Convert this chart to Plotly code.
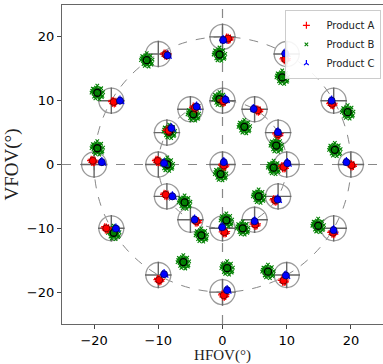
import plotly.graph_objects as go

# Target grid points (deg)
TARGET_X = [0, 10, 17.32, 20, 17.32, 10, 0, -10, -17.32, -20, -17.32, -10,
            0, 5, 8.66, 10, 8.66, 5, 0, -5, -8.66, -10, -8.66, -5, 0]
TARGET_Y = [20, 17.32, 10, 0, -10, -17.32, -20, -17.32, -10, 0, 10, 17.32,
            10, 8.66, 5, 0, -5, -8.66, -10, -8.66, -5, 0, 5, 8.66, 0]

# Cluster means
A_X = [0.88, 9.77, 17.05, 20.1, 17.2, 9.5, 0.2, -9.87, -18.1, -20.2, -16.95, -8.84,
       0.1, 5.5, 8.63, 9.5, 8.2, 5.1, 0.3, -4.08, -8.84, -10.1, -8.4, -4.3, 0.2]
A_Y = [19.74, 16.5, 9.5, -0.1, -10.7, -18.2, -20.5, -18.1, -10.0, 0.57, 9.8, 17.24,
       9.9, 8.5, 4.74, -0.4, -5.6, -9.4, -10.6, -8.9, -4.74, 0.57, 5.3, 8.9, -0.15]
B_X = [-0.47, 9.3, 19.5, 17.5, 14.9, 7.08, 0.72, -6.1, -16.95, -19.5, -19.5, -11.8,
       -0.47, 3.4, 8.37, 7.96, 5.63, 3.15, 0.6, -3.3, -5.9, -8.6, -8.3, -4.55, -0.3]
B_Y = [17.24, 13.65, 8.2, 2.3, -9.6, -16.8, -16.25, -15.3, -10.7, 2.55, 11.25, 16.35,
       10.26, 5.9, 2.97, -0.5, -5.0, -10.0, -8.75, -11.1, -5.94, 0.0, 5.15, 7.86, -1.5]
C_X = [0.1, 9.77, 17.0, 19.3, 17.3, 9.87, 0.72, -9.1, -16.6, -18.8, -15.97, -8.58,
       0.47, 4.86, 8.63, 10.1, 8.58, 5.0, -0.05, -4.34, -7.8, -9.1, -7.96, -4.03, 0.2]
C_Y = [19.5, 17.4, 10.0, 0.36, -10.3, -17.4, -19.7, -17.2, -10.05, 0.36, 10.0, 17.1,
       10.16, 8.7, 5.05, 0.2, -5.5, -8.9, -9.84, -8.65, -5.0, 0.2, 5.68, 9.06, 0.36]

# Sample scatter offsets around each mean (approximate cluster shapes)
A_DX = [-0.35, -0.15, 0.0, 0.2, 0.35, -0.25, 0.1, 0.3]
A_DY = [0.05, -0.25, 0.2, -0.1, 0.1, 0.25, -0.3, -0.2]
B_DX = [-0.8, -0.5, -0.2, 0.1, 0.4, 0.7, 0.9, -0.6, -0.3, 0.2, 0.5, -0.9, 0.0, 0.6,
        -0.4, 0.3, -0.1, 0.25, -0.55, 0.55, 0.05, -0.35, 0.8, -0.7,
        -0.25, 0.2, 0.0, -0.15, 0.35, -0.45, 0.15, 0.45]
B_DY = [0.3, -0.6, 0.8, -0.2, 0.5, -0.7, 0.1, -0.1, -0.9, 0.6, -0.4, 0.0, 1.1, 0.7,
        0.4, -1.0, 0.0, 0.2, 0.55, -0.3, -0.45, -0.25, -0.5, 0.65,
        0.15, -0.15, 0.4, -0.4, 0.05, 0.2, -0.65, -0.1]
C_DX = [-0.2, 0.0, 0.25, -0.1, 0.15, 0.3]
C_DY = [0.15, 0.3, -0.05, -0.2, 0.1, -0.25]

RINGS = [10, 20]
TICKS = [-20, -10, 0, 10, 20]


def cloud(mx, my, dx, dy):
    xs, ys = [], []
    for x, y in zip(mx, my):
        for a, b in zip(dx, dy):
            xs.append(x + a)
            ys.append(y + b)
    return xs, ys


fig = go.Figure()

# target circles and crosses
fig.add_trace(go.Scatter(x=TARGET_X, y=TARGET_Y, mode="markers", showlegend=False,
                         hoverinfo="skip",
                         marker=dict(symbol="circle-open", size=25,
                                     line=dict(color="#9a9a9a", width=1.3), color="#9a9a9a")))
fig.add_trace(go.Scatter(x=TARGET_X, y=TARGET_Y, mode="markers", showlegend=False,
                         hoverinfo="skip",
                         marker=dict(symbol="cross-thin", size=19,
                                     line=dict(color="#666666", width=1.4), color="#666666")))

bx, by = cloud(B_X, B_Y, B_DX, B_DY)
fig.add_trace(go.Scatter(x=bx, y=by, mode="markers", name="Product B", legendrank=2,
                         marker=dict(symbol="x-thin", size=3.5, color="green",
                                     line=dict(color="green", width=1.1))))
ax, ay = cloud(A_X, A_Y, A_DX, A_DY)
fig.add_trace(go.Scatter(x=ax, y=ay, mode="markers", name="Product A", legendrank=1,
                         marker=dict(symbol="cross-thin", size=5, color="red",
                                     line=dict(color="red", width=1.2))))
cx, cy = cloud(C_X, C_Y, C_DX, C_DY)
fig.add_trace(go.Scatter(x=cx, y=cy, mode="markers", name="Product C", legendrank=3,
                         marker=dict(symbol="y-up", size=4, color="blue",
                                     line=dict(color="blue", width=1.2))))

# means
fig.add_trace(go.Scatter(x=B_X, y=B_Y, mode="markers", showlegend=False,
                         marker=dict(symbol="circle-open", size=7, color="#000000",
                                     line=dict(color="#102010", width=1.3))))
fig.add_trace(go.Scatter(x=A_X, y=A_Y, mode="markers", showlegend=False,
                         marker=dict(symbol="circle", size=7, color="red",
                                     line=dict(color="#600000", width=0.8))))
fig.add_trace(go.Scatter(x=C_X, y=C_Y, mode="markers", showlegend=False,
                         marker=dict(symbol="circle", size=7, color="blue",
                                     line=dict(color="#000060", width=0.8))))

shapes = []
for r in RINGS:
    shapes.append(dict(type="circle", xref="x", yref="y", x0=-r, y0=-r, x1=r, y1=r,
                       line=dict(color="#888888", width=1, dash="dash"), layer="below"))
shapes.append(dict(type="line", xref="x", yref="y", x0=-25, x1=25, y0=0, y1=0,
                   line=dict(color="#888888", width=1.2, dash="dash"), layer="below"))
shapes.append(dict(type="line", xref="x", yref="y", x0=0, x1=0, y0=-25, y1=25,
                   line=dict(color="#888888", width=1.2, dash="dash"), layer="below"))

axis_common = dict(range=[-25, 25], tickvals=TICKS, ticks="outside", ticklen=4,
                   tickcolor="#444444", showline=True, linecolor="#666666", linewidth=1.2,
                   mirror=True, showgrid=False, zeroline=False,
                   tickfont=dict(family="DejaVu Sans", size=13, color="black"))

fig.update_layout(
    width=383, height=364,
    margin=dict(l=62, r=0, t=5, b=40),
    plot_bgcolor="white", paper_bgcolor="white",
    shapes=shapes,
    xaxis=dict(**axis_common, title=dict(text="HFOV(°)", standoff=2,
               font=dict(family="Liberation Serif", size=15, color="#222222"))),
    yaxis=dict(**axis_common, title=dict(text="VFOV(°)", standoff=3,
               font=dict(family="Liberation Serif", size=19, color="#222222"))),
    legend=dict(x=0.995, y=0.985, xanchor="right", yanchor="top",
                bgcolor="rgba(255,255,255,0.9)", bordercolor="#cccccc", borderwidth=1,
                font=dict(family="DejaVu Sans", size=10, color="#222222"),
                tracegroupgap=0),
    showlegend=True,
)

fig.write_html("out.html")
